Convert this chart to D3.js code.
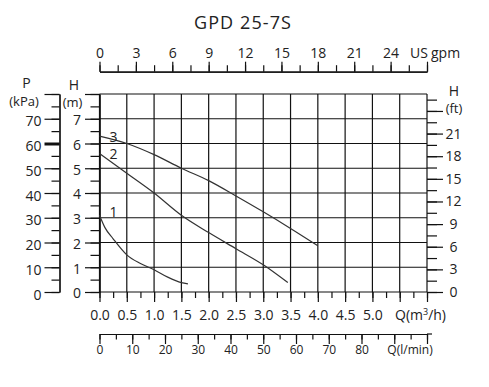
<!DOCTYPE html>
<html><head><meta charset="utf-8">
<script src="https://cdn.jsdelivr.net/npm/d3@7"></script>
<style>
html,body{margin:0;padding:0;background:#fff;}
text{font-family:"Open Sans","Noto Sans",sans-serif;fill:#222;}
</style></head>
<body><svg id="c" width="489" height="387"></svg>
<script>
const title = "GPD 25-7S";
// curves: Q (m3/h), H (m)
const curve1Q = [0, 0.1, 0.25, 0.5, 0.75, 1.0, 1.25, 1.5, 1.62];
const curve1H = [3.1, 2.6, 2.15, 1.5, 1.15, 0.9, 0.6, 0.38, 0.33];
const curve2Q = [0, 0.5, 1.0, 1.5, 2.0, 2.5, 3.0, 3.45];
const curve2H = [5.6, 4.8, 4.0, 3.1, 2.4, 1.75, 1.1, 0.38];
const curve3Q = [0, 0.5, 1.0, 1.5, 2.0, 2.5, 3.0, 3.5, 4.0];
const curve3H = [6.3, 6.0, 5.55, 5.0, 4.5, 3.88, 3.24, 2.57, 1.87];
const curveNames = ["1", "2", "3"];
const qTickLabels = ["0.0","0.5","1.0","1.5","2.0","2.5","3.0","3.5","4.0","4.5","5.0"];
const gpmTickLabels = [0, 3, 6, 9, 12, 15, 18, 21, 24];
const lpmTickLabels = [0, 10, 20, 30, 40, 50, 60, 70, 80];
const hTickLabels = [0, 1, 2, 3, 4, 5, 6, 7];
const kpaTickLabels = [0, 10, 20, 30, 40, 50, 60, 70];
const ftTickLabels = [0, 3, 6, 9, 12, 15, 18, 21];

const svg = d3.select("#c");
const x = d3.scaleLinear().domain([0, 6]).range([99.5, 427]);
const y = d3.scaleLinear().domain([0, 8]).range([292, 94]);
const gpm = d3.scaleLinear().domain([0, 27]).range([99.5, 427]);
const lpm = d3.scaleLinear().domain([0, 100]).range([99.5, 427]);
const kpa = d3.scaleLinear().domain([0, 80]).range([292, 94]);
const ft = d3.scaleLinear().domain([0, 8 / 0.3048]).range([292, 94]);

const ink = "#111";
function styleAxis(g, fs) {
  g.selectAll("path.domain").attr("stroke", ink).attr("stroke-width", 1.2);
  g.selectAll(".tick line").attr("stroke", ink).attr("stroke-width", 1.2);
  g.selectAll("text").attr("fill", "#222").attr("font-size", fs)
    .attr("font-family", "'Open Sans','Noto Sans',sans-serif");
  g.attr("font-family", null);
}

// title
svg.append("text").attr("x", 243).attr("y", 29).attr("text-anchor", "middle")
  .attr("font-size", 18).attr("letter-spacing", 1.1).text(title);

// grid
svg.append("g").selectAll("line").data(d3.range(0, 6.01, 0.5)).join("line")
  .attr("x1", d => x(d)).attr("x2", d => x(d)).attr("y1", y(8)).attr("y2", y(0))
  .attr("stroke", ink).attr("stroke-width", 1.2);
svg.append("g").selectAll("line").data(d3.range(0, 8.01, 1)).join("line")
  .attr("x1", x(0)).attr("x2", x(6)).attr("y1", d => y(d)).attr("y2", d => y(d))
  .attr("stroke", ink).attr("stroke-width", 1.2);

// top gpm axis
{
  const yy = 71.7;
  const gMin = svg.append("g").attr("transform", `translate(0,${yy})`)
    .call(d3.axisTop(gpm).tickValues(d3.range(0, 27.01, 1.5)).tickSize(6.5).tickSizeOuter(0).tickFormat(""));
  styleAxis(gMin, 14);
  const gMaj = svg.append("g").attr("transform", `translate(0,${yy})`)
    .call(d3.axisTop(gpm).tickValues(gpmTickLabels.concat([27])).tickSize(10).tickSizeOuter(0).tickPadding(3.5)
      .tickFormat(d => d === 27 ? "" : d));
  styleAxis(gMaj, 14);
  svg.append("text").attr("x", gpm(27) + 1).attr("y", 58).attr("text-anchor", "end").attr("font-size", 14).text("US");
  svg.append("text").attr("x", gpm(27) + 4).attr("y", 58).attr("text-anchor", "start").attr("font-size", 14).text("gpm");
}

// bottom m3/h axis
{
  const gMin = svg.append("g").attr("transform", `translate(0,${y(0)})`)
    .call(d3.axisBottom(x).tickValues(d3.range(0, 6.01, 0.25)).tickSize(6).tickSizeOuter(0).tickFormat(""));
  styleAxis(gMin, 14);
  gMin.select("path.domain").remove();
  const gMaj = svg.append("g").attr("transform", `translate(0,${y(0)})`)
    .call(d3.axisBottom(x).tickValues(d3.range(0, 6.01, 0.5)).tickSize(10).tickSizeOuter(0).tickPadding(8)
      .tickFormat((d, i) => i < qTickLabels.length ? qTickLabels[i] : ""));
  styleAxis(gMaj, 14);
  gMaj.select("path.domain").remove();
  const q = svg.append("text").attr("x", 395).attr("y", 320).attr("font-size", 14);
  q.append("tspan").text("Q(m");
  q.append("tspan").attr("font-size", 9).attr("dy", -5).text("3");
  q.append("tspan").attr("dy", 5).text("/h)");
}

// bottom l/min axis
{
  const yy = 334;
  const gMin = svg.append("g").attr("transform", `translate(0,${yy})`)
    .call(d3.axisBottom(lpm).tickValues(d3.range(0, 100.1, 5)).tickSize(5.5).tickSizeOuter(0).tickFormat(""));
  styleAxis(gMin, 12);
  const gMaj = svg.append("g").attr("transform", `translate(0,${yy})`)
    .call(d3.axisBottom(lpm).tickValues(d3.range(0, 100.1, 10)).tickSize(10).tickSizeOuter(0).tickPadding(1.5)
      .tickFormat(d => lpmTickLabels.includes(d) ? d : ""));
  styleAxis(gMaj, 12);
  svg.append("line").attr("x1", lpm(100)).attr("x2", lpm(100) + 5).attr("y1", yy).attr("y2", yy)
    .attr("stroke", ink).attr("stroke-width", 1.2);
  svg.append("text").attr("x", 410).attr("y", 354).attr("text-anchor", "middle").attr("font-size", 12).text("Q(l/min)");
}

// left H (m) axis
{
  const xx = x(0);
  const gMin = svg.append("g").attr("transform", `translate(${xx},0)`)
    .call(d3.axisLeft(y).tickValues(d3.range(0, 8.01, 0.5)).tickSize(9).tickSizeOuter(0).tickFormat(""));
  styleAxis(gMin, 14);
  const gMaj = svg.append("g").attr("transform", `translate(${xx},0)`)
    .call(d3.axisLeft(y).tickValues(d3.range(0, 8.01, 1)).tickSize(14.5).tickSizeOuter(0).tickPadding(4)
      .tickFormat(d => hTickLabels.includes(d) ? d : ""));
  styleAxis(gMaj, 14);
  gMaj.selectAll("text").attr("dy", "0.42em");
  svg.append("text").attr("x", 74).attr("y", 90).attr("text-anchor", "middle").attr("font-size", 14).text("H");
  svg.append("text").attr("x", 72.5).attr("y", 107).attr("text-anchor", "middle").attr("font-size", 13).text("(m)");
}

// left P (kPa) axis
{
  const xx = 59.5;
  const gMin = svg.append("g").attr("transform", `translate(${xx},0)`)
    .call(d3.axisLeft(kpa).tickValues(d3.range(0, 80.1, 5)).tickSize(8).tickSizeOuter(0).tickFormat(""));
  styleAxis(gMin, 14);
  const gMaj = svg.append("g").attr("transform", `translate(${xx},0)`)
    .call(d3.axisLeft(kpa).tickValues(d3.range(0, 80.1, 10)).tickSize(15).tickSizeOuter(0).tickPadding(3)
      .tickFormat(d => kpaTickLabels.includes(d) ? d : ""));
  styleAxis(gMaj, 14);
  gMaj.selectAll("text").attr("dy", "0.5em");
  gMaj.selectAll(".tick").filter(d => d === 60).select("line").attr("stroke-width", 3);
  svg.append("text").attr("x", 26.5).attr("y", 88).attr("text-anchor", "middle").attr("font-size", 14).text("P");
  svg.append("text").attr("x", 24).attr("y", 106).attr("text-anchor", "middle").attr("font-size", 13).text("(kPa)");
}

// right H (ft) axis
{
  const xx = x(6);
  const gMin = svg.append("g").attr("transform", `translate(${xx},0)`)
    .call(d3.axisRight(ft).tickValues(d3.range(0, 25.6, 1.5)).tickSize(10).tickSizeOuter(0).tickFormat(""));
  styleAxis(gMin, 14);
  gMin.select("path.domain").remove();
  const gMaj = svg.append("g").attr("transform", `translate(${xx},0)`)
    .call(d3.axisRight(ft).tickValues(d3.range(0, 24.1, 3)).tickSize(16).tickSizeOuter(0)
      .tickFormat(d => ftTickLabels.includes(d) ? d : ""));
  styleAxis(gMaj, 14);
  gMaj.select("path.domain").remove();
  gMaj.selectAll("text").attr("text-anchor", "middle").attr("x", 26.5);
  svg.append("text").attr("x", 454).attr("y", 96).attr("text-anchor", "middle").attr("font-size", 14).text("H");
  svg.append("text").attr("x", 454).attr("y", 113).attr("text-anchor", "middle").attr("font-size", 13).text("(ft)");
}

// curves
const curves = [
  curve1Q.map((q, i) => [q, curve1H[i]]),
  curve2Q.map((q, i) => [q, curve2H[i]]),
  curve3Q.map((q, i) => [q, curve3H[i]])
];
const line = d3.line().x(d => x(d[0])).y(d => y(d[1])).curve(d3.curveMonotoneX);
svg.append("g").selectAll("path").data(curves).join("path")
  .attr("d", line).attr("fill", "none").attr("stroke", "#333").attr("stroke-width", 1.2);
svg.append("g").selectAll("text").data(curves).join("text")
  .attr("x", d => x(d[0][0]) + 14).attr("y", (d, i) => y(d[0][1]) + (i === 0 ? 2 : 6))
  .attr("text-anchor", "middle").attr("font-size", 14)
  .text((d, i) => curveNames[i]);
</script></body></html>
